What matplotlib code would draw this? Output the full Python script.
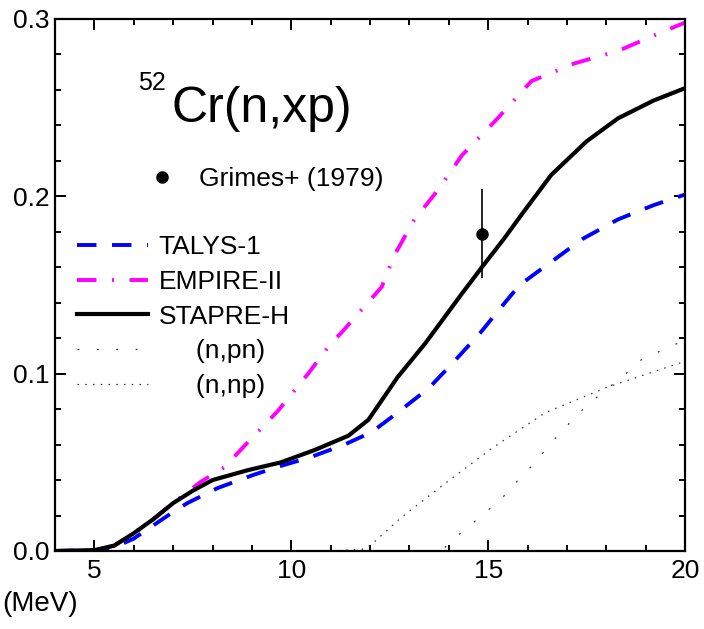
import matplotlib
matplotlib.use("Agg")
import matplotlib.pyplot as plt
from matplotlib.lines import Line2D

plt.rcParams['font.family'] = ['Liberation Sans', 'DejaVu Sans']

# cross sections (b) vs neutron energy (MeV)
stapre_e = [4, 5, 5.5, 6, 6.5, 7, 7.5, 8, 8.9, 9.74, 10.6, 11.45, 11.96, 12.3, 12.7,
            13.4, 14.33, 14.84, 15.4, 15.86, 16.6, 17.5, 18.3, 19.2, 20]
stapre = [0, 0.0005, 0.003, 0.010, 0.018, 0.027, 0.034, 0.040, 0.0456, 0.050, 0.057,
          0.065, 0.074, 0.085, 0.098, 0.117, 0.145, 0.160, 0.176, 0.190, 0.212, 0.231,
          0.244, 0.254, 0.261]

talys_e = [4, 5, 5.5, 6, 6.5, 7, 7.36, 8.13, 9.05, 9.74, 10.5, 11.35, 12.04, 12.7,
           13.5, 14.1, 14.8, 15.35, 15.8, 16.6, 17.4, 18.3, 19.2, 20]
talys = [0, 0.0003, 0.002, 0.007, 0.0145, 0.022, 0.027, 0.0355, 0.043, 0.048, 0.053,
         0.060, 0.067, 0.078, 0.092, 0.106, 0.123, 0.138, 0.150, 0.163, 0.176, 0.187,
         0.195, 0.201]

empire_e = [4, 5, 5.5, 6, 6.5, 7, 7.7, 8.29, 8.8, 9.66, 10.43, 11.0, 11.27, 12.3,
            12.6, 13.1, 13.74, 14.33, 15.2, 16.1, 17.2, 18.3, 19.35, 20]
empire = [0, 0.0005, 0.003, 0.010, 0.018, 0.027, 0.039, 0.047, 0.059, 0.079, 0.100,
          0.117, 0.123, 0.149, 0.166, 0.186, 0.204, 0.223, 0.243, 0.265, 0.275, 0.282,
          0.292, 0.298]

npn_e = [13.9, 14.3, 15.0, 15.5, 15.8, 16.2, 16.6, 17.06, 17.5, 18.5, 18.9, 19.4, 20]
npn = [0.002, 0.010, 0.023, 0.033, 0.041, 0.050, 0.061, 0.072, 0.082, 0.100, 0.108,
       0.113, 0.119]

nnp_e = [11.0, 11.8, 12.0, 12.8, 13.9, 15.1, 16.45, 17.98, 20]
nnp = [0.0, 0.001, 0.003, 0.019, 0.038, 0.058, 0.078, 0.092, 0.107]

grimes_e = [14.84]
grimes = [0.179]
grimes_err = [0.025]

fig = plt.figure(figsize=(7.04, 6.29), dpi=100)
ax = fig.add_axes([55 / 704, 1 - 551 / 629, 630 / 704, 532 / 629])

ax.plot(nnp_e, nnp, color='#333333', lw=0.9, ls=(0, (1.2, 5)))
ax.plot(npn_e, npn, color='#333333', lw=0.9, ls=(0, (1.5, 14)))
ax.plot(talys_e, talys, color='#0000ff', lw=2.8, ls=(0, (5, 4)))
ax.plot(empire_e, empire, color='#ff00ff', lw=2.8, ls=(0, (5, 4, 0.5, 4)))
ax.plot(stapre_e, stapre, color='black', lw=3.0)
ax.errorbar(grimes_e, grimes, yerr=grimes_err, fmt='o', color='black', ms=8,
            elinewidth=1.2, capsize=0)

ax.set_xlim(4, 20)
ax.set_ylim(0, 0.3)
ax.set_xticks([5, 10, 15, 20])
ax.set_xticks(range(4, 21), minor=True)
ax.set_yticks([0.0, 0.1, 0.2, 0.3])
ax.set_yticklabels(['0.0', '0.1', '0.2', '0.3'])
ax.set_yticks([i * 0.02 for i in range(16)], minor=True)
ax.tick_params(which='both', direction='in', top=True, right=True, labelsize=19, width=1.4)
ax.tick_params(which='major', length=8, pad=4)
ax.tick_params(which='minor', length=4)
ax.tick_params(axis='x', pad=6)
for s in ax.spines.values():
    s.set_linewidth(1.6)

# legends
h_grimes = Line2D([], [], marker='o', ls='none', color='black', ms=8)
leg1 = ax.legend([h_grimes], ['Grimes+ (1979)'], loc='upper left',
                 bbox_to_anchor=(0.149, 0.722), frameon=False, fontsize=19,
                 handlelength=1.0, handletextpad=0.9, borderpad=0, borderaxespad=0)
ax.add_artist(leg1)

handles = [
    Line2D([], [], color='#0000ff', lw=2.8, ls=(0, (5, 4))),
    Line2D([], [], color='#ff00ff', lw=2.8, ls=(0, (5, 4, 0.5, 4))),
    Line2D([], [], color='black', lw=3.0),
    Line2D([], [], color='#333333', lw=0.9, ls=(0, (1.5, 14))),
    Line2D([], [], color='#333333', lw=0.9, ls=(0, (1.2, 5))),
]
labels = ['TALYS-1', 'EMPIRE-II', 'STAPRE-H', '     (n,pn)', '     (n,np)']
ax.legend(handles, labels, loc='upper left', bbox_to_anchor=(0.035, 0.594),
          frameon=False, fontsize=19, handlelength=2.7, handletextpad=0.4,
          labelspacing=0.41, borderpad=0, borderaxespad=0)

# reaction label
ax.text(138 / 704, 1 - 90 / 629, '52', transform=fig.transFigure, fontsize=18,
        ha='left', va='baseline')
ax.text(172 / 704, 1 - 122 / 629, 'Cr(n,xp)', transform=fig.transFigure, fontsize=36,
        ha='left', va='baseline')

fig.text(78 / 704, 1 - 604 / 629, '(MeV)', fontsize=20, ha='right', va='center')

fig.savefig('out.png', dpi=100)
